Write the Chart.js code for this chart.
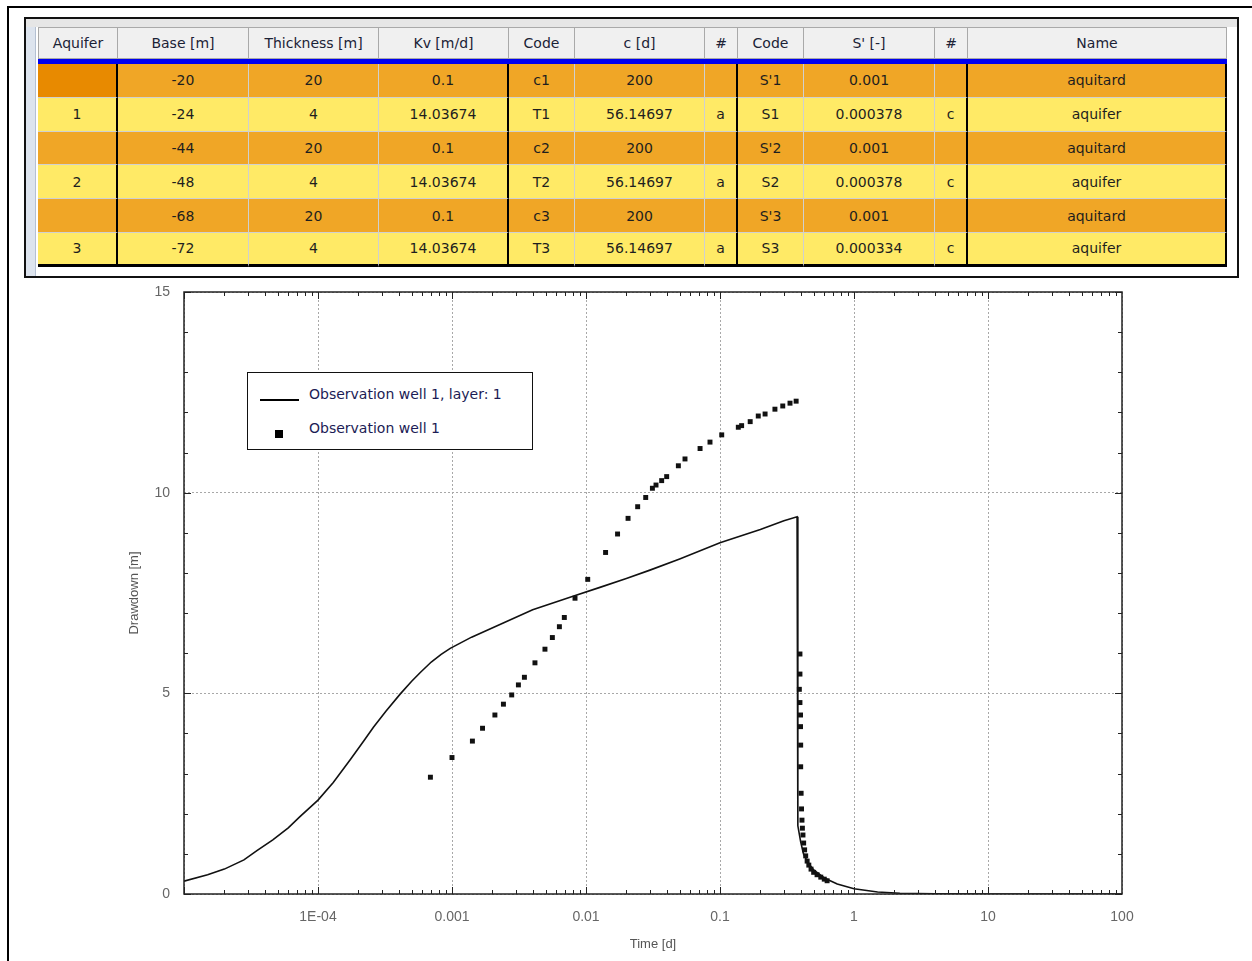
<!DOCTYPE html>
<html>
<head>
<meta charset="UTF-8">
<title>Drawdown - Observation well 1</title>
<script src="https://cdn.jsdelivr.net/npm/chart.js"></script>
<style>
    body {
        margin: 0;
        width: 1252px;
        height: 961px;
        position: relative;
        overflow: hidden;
        background: #fff;
        font-family: 'DejaVu Sans', sans-serif;
    }
    .outer {
        position: absolute;
        left: 7px;
        top: 6px;
        width: 1260px;
        height: 980px;
        border-left: 2px solid #000;
        border-top: 2px solid #000;
    }
    .frame {
        position: absolute;
        left: 24px;
        top: 17px;
        width: 1211px;
        height: 257px;
        border: 2px solid #111;
        background: #fff;
        overflow: hidden;
    }
    .band {
        position: absolute;
        left: 0; top: 0; right: 0;
        height: 8px;
        background: #e6e6e6;
    }
    .strip {
        position: absolute;
        left: 0; top: 8px; bottom: 0;
        width: 9px;
        background: #dde4ee;
        border-right: 1px solid #b4c0d2;
    }
    table {
        position: absolute;
        left: 12px;
        top: 8px;
        border-collapse: separate;
        border-spacing: 0;
        table-layout: fixed;
        font-size: 14px;
        color: #1e1e1e;
    }
    th {
        box-sizing: border-box;
        height: 32px;
        padding: 0;
        background: #f0f0f0;
        font-weight: normal;
        color: #1b2236;
        border-top: 1px solid #a9a9a9;
        border-right: 1px solid #a9a9a9;
        border-bottom: 1px solid #a9a9a9;
    }
    th:first-child { border-left: 1px solid #a9a9a9; }
    tr.blue td { height: 5px; padding: 0; background: #0000ee; border: none; }
    td {
        box-sizing: border-box;
        height: 33.8px;
        padding: 0;
        text-align: center;
        border-right: 1px solid #d0d0d0;
        border-bottom: 1px solid #d0d0d0;
    }
    td.sep { border-right: 2px solid #000; }
    tr.aquitard td { background: #f0a626; }
    tr.aquifer td { background: #ffea66; }
    tr.aquitard td.selected { background: #e88a00; }
    tr.last td { border-bottom: 3px solid #000; }
    #chart {
        position: absolute;
        left: 0;
        top: 280px;
    }
    .legend {
        position: absolute;
        left: 247px;
        top: 372px;
        width: 284px;
        height: 76px;
        border: 1.5px solid #111;
        background: #fff;
        font-size: 14px;
        color: #1c1c55;
    }
    .legend .row { position: absolute; left: 61px; white-space: nowrap; }
    .legend .lineSample { position: absolute; left: 12px; top: 26px; width: 39px; height: 2px; background: #000; }
    .legend .dot { position: absolute; left: 27px; top: 57px; width: 8px; height: 8px; background: #000; }
</style>
</head>
<body>
<div class="outer"></div>
<div class="frame">
    <div class="band"></div>
    <div class="strip"></div>
    <table id="layers"></table>
</div>
<canvas id="chart" width="1252" height="681"></canvas>
<div class="legend">
    <div class="lineSample"></div>
    <div class="row" style="top:13px">Observation well 1, layer: 1</div>
    <div class="dot"></div>
    <div class="row" style="top:47px">Observation well 1</div>
</div>
<script>
// table contents
const headers = ['Aquifer', 'Base [m]', 'Thickness [m]', 'Kv [m/d]', 'Code', 'c [d]', '#', 'Code', "S' [-]", '#', 'Name'];
const aquiferIds = ['', '1', '', '2', '', '3'];
const baseValues = ['-20', '-24', '-44', '-48', '-68', '-72'];
const thicknessValues = ['20', '4', '20', '4', '20', '4'];
const kvValues = ['0.1', '14.03674', '0.1', '14.03674', '0.1', '14.03674'];
const cCodes = ['c1', 'T1', 'c2', 'T2', 'c3', 'T3'];
const cValues = ['200', '56.14697', '200', '56.14697', '200', '56.14697'];
const cFlags = ['', 'a', '', 'a', '', 'a'];
const sCodes = ["S'1", 'S1', "S'2", 'S2', "S'3", 'S3'];
const sValues = ['0.001', '0.000378', '0.001', '0.000378', '0.001', '0.000334'];
const sFlags = ['', 'c', '', 'c', '', 'c'];
const layerNames = ['aquitard', 'aquifer', 'aquitard', 'aquifer', 'aquitard', 'aquifer'];

// simulated drawdown (line)
const lineTimes = [1e-5, 1.5e-5, 2e-5, 2.8e-5, 3.5e-5, 4.6e-5, 6e-5, 7.3e-5, 1e-4, 1.3e-4, 1.75e-4, 2.2e-4,
    2.6e-4, 3.2e-4, 4.1e-4, 5e-4, 5.8e-4, 7e-4, 8.3e-4, 9.7e-4, 1.4e-3, 2.3e-3, 4e-3, 8e-3, 0.0127, 0.02,
    0.03, 0.05, 0.1, 0.2, 0.3, 0.376, 0.381, 0.40, 0.42, 0.45, 0.5, 0.6, 0.75, 1.0, 1.5, 2.2, 4, 10, 100];
const lineDrawdown = [0.32, 0.48, 0.62, 0.85, 1.08, 1.35, 1.65, 1.92, 2.34, 2.78, 3.36, 3.82,
    4.16, 4.55, 4.98, 5.3, 5.52, 5.78, 5.97, 6.12, 6.4, 6.72, 7.08, 7.42, 7.64, 7.86,
    8.07, 8.35, 8.75, 9.08, 9.3, 9.4, 1.7, 1.3, 1.0, 0.8, 0.6, 0.4, 0.25, 0.13, 0.05, 0.02, 0.005, 0.0, 0.0];

// measured drawdown (points)
const obsTimes = [6.9e-4, 1.0e-3, 1.42e-3, 1.69e-3, 2.09e-3, 2.42e-3, 2.79e-3, 3.13e-3, 3.47e-3, 4.16e-3,
    4.94e-3, 5.61e-3, 6.33e-3, 6.89e-3, 8.28e-3, 0.0103, 0.0140, 0.0172, 0.0206, 0.0243, 0.0279, 0.0313,
    0.0333, 0.0367, 0.040, 0.0489, 0.0548, 0.071, 0.0842, 0.103, 0.137, 0.145, 0.168, 0.193, 0.217, 0.257,
    0.294, 0.333, 0.37,
    0.395, 0.395, 0.391, 0.395, 0.399, 0.399, 0.40, 0.40, 0.403, 0.406, 0.409, 0.412, 0.416, 0.421, 0.428,
    0.436, 0.447, 0.46, 0.478, 0.5, 0.53, 0.565, 0.6, 0.63];
const obsDrawdown = [2.91, 3.40, 3.81, 4.13, 4.46, 4.73, 4.96, 5.21, 5.40, 5.76,
    6.10, 6.39, 6.66, 6.89, 7.37, 7.84, 8.51, 8.97, 9.36, 9.65, 9.88, 10.11,
    10.19, 10.30, 10.40, 10.67, 10.84, 11.10, 11.26, 11.44, 11.63, 11.67, 11.77, 11.91, 11.96, 12.08,
    12.16, 12.23, 12.28,
    5.98, 5.48, 5.10, 4.77, 4.46, 4.17, 3.71, 3.17, 2.51, 2.12, 1.84, 1.64, 1.47, 1.27, 1.10,
    0.95, 0.82, 0.72, 0.62, 0.54, 0.48, 0.42, 0.37, 0.33];

const xTickValues = [1e-5, 1e-4, 1e-3, 1e-2, 0.1, 1, 10, 100];
const xTickLabels = ['', '1E-04', '0.001', '0.01', '0.1', '1', '10', '100'];
const yTickValues = [0, 5, 10, 15];

// build the table
const colWidths = [80, 131, 130, 130, 66, 130, 33, 66, 131, 33, 259];
const sepCols = [0, 3, 6, 9, 10];
const columns = [aquiferIds, baseValues, thicknessValues, kvValues, cCodes, cValues, cFlags, sCodes, sValues, sFlags, layerNames];

let html = '<colgroup>' + colWidths.map(w => `<col style="width:${w}px">`).join('') + '</colgroup>';
html += '<tr>' + headers.map(h => `<th>${h}</th>`).join('') + '</tr>';
html += `<tr class="blue"><td colspan="${headers.length}"></td></tr>`;
layerNames.forEach((name, r) => {
    const cls = name + (r === layerNames.length - 1 ? ' last' : '');
    html += `<tr class="${cls}">` + columns.map((col, c) => {
        const k = [];
        if (sepCols.includes(c)) k.push('sep');
        if (r === 0 && c === 0) k.push('selected');
        return `<td class="${k.join(' ')}">${col[r]}</td>`;
    }).join('') + '</tr>';
});
document.getElementById('layers').innerHTML = html;

// frame and inner tick marks round the plot area
const frameTicks = {
    id: 'frameTicks',
    afterDraw(chart) {
        const { ctx, chartArea: { left, right, top, bottom }, scales: { x, y } } = chart;
        ctx.save();
        ctx.strokeStyle = '#222';
        ctx.lineWidth = 1;
        const seg = (x1, y1, x2, y2) => { ctx.beginPath(); ctx.moveTo(x1, y1); ctx.lineTo(x2, y2); ctx.stroke(); };
        for (let e = -5; e < 2; e++) {
            for (let m = 1; m <= 9; m++) {
                const px = Math.round(x.getPixelForValue(m * Math.pow(10, e))) + 0.5;
                const len = m === 1 ? 7 : 4;
                seg(px, bottom, px, bottom - len);
                seg(px, top, px, top + len);
            }
        }
        for (let v = 0; v <= 15; v++) {
            const py = Math.round(y.getPixelForValue(v)) + 0.5;
            const len = v % 5 === 0 ? 7 : 4;
            seg(left, py, left + len, py);
            seg(right, py, right - len, py);
        }
        ctx.lineWidth = 1.5;
        ctx.strokeRect(left, top, right - left, bottom - top);
        ctx.restore();
    }
};

const tickFont = { family: 'Liberation Sans', size: 14 };
const titleFont = { family: 'Liberation Sans', size: 13 };

new Chart(document.getElementById('chart'), {
    type: 'scatter',
    data: {
        datasets: [
            {
                label: 'Observation well 1, layer: 1',
                data: lineTimes.map((t, i) => ({ x: t, y: lineDrawdown[i] })),
                showLine: true,
                borderColor: '#111',
                borderWidth: 1.6,
                pointRadius: 0,
                tension: 0,
                order: 2
            },
            {
                label: 'Observation well 1',
                data: obsTimes.map((t, i) => ({ x: t, y: obsDrawdown[i] })),
                pointStyle: 'rect',
                pointRadius: 3.5,
                backgroundColor: '#111',
                borderWidth: 0,
                order: 1
            }
        ]
    },
    options: {
        responsive: false,
        animation: false,
        devicePixelRatio: 1,
        layout: { padding: { left: 100, right: 130, top: 12, bottom: 0 } },
        plugins: { legend: { display: false }, tooltip: { enabled: false } },
        scales: {
            x: {
                type: 'logarithmic',
                min: 1e-5,
                max: 100,
                afterBuildTicks: s => { s.ticks = xTickValues.map(v => ({ value: v })); },
                afterFit: s => { s.height = 67; s.paddingLeft = 0; s.paddingRight = 0; },
                ticks: {
                    autoSkip: false,
                    maxRotation: 0,
                    padding: 15,
                    color: '#666',
                    font: tickFont,
                    callback: (v, i) => xTickLabels[i]
                },
                grid: { color: '#a8a8a8', drawTicks: false },
                border: { display: false, dash: [2, 2] },
                title: { display: true, text: 'Time [d]', color: '#555', font: titleFont, padding: { top: 9, bottom: 9 } }
            },
            y: {
                min: 0,
                max: 15,
                afterBuildTicks: s => { s.ticks = yTickValues.map(v => ({ value: v })); },
                afterFit: s => { s.width = 84; s.paddingTop = 0; s.paddingBottom = 0; },
                ticks: { padding: 14, color: '#666', font: tickFont },
                grid: { color: '#a8a8a8', drawTicks: false },
                border: { display: false, dash: [2, 2] },
                title: { display: true, text: 'Drawdown [m]', color: '#555', font: titleFont, padding: { top: 27, bottom: 27 } }
            }
        }
    },
    plugins: [frameTicks]
});
</script>
</body>
</html>
